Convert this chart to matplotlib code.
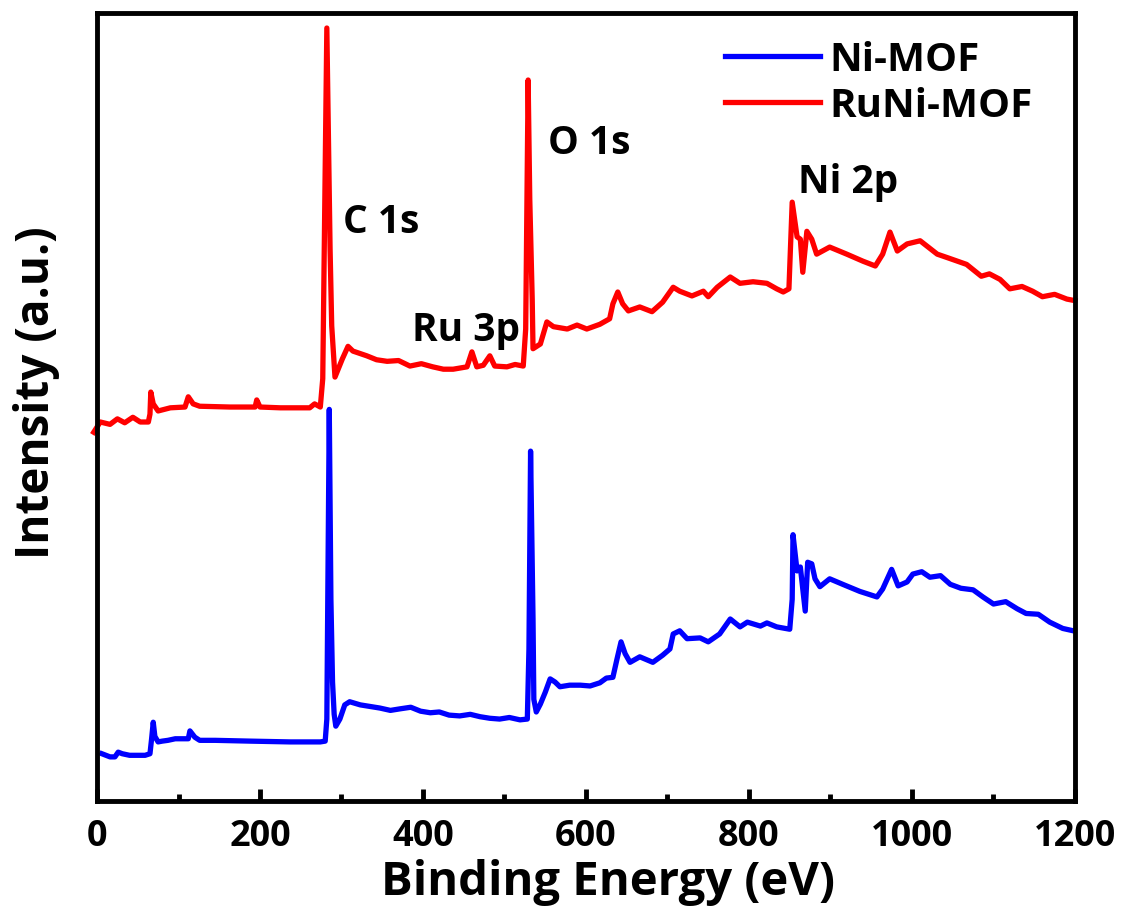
import matplotlib
matplotlib.use("Agg")
from matplotlib import pyplot as plt
from matplotlib import font_manager
from matplotlib.ticker import MultipleLocator

# pick a family that actually ships a bold face
bold_family = 'DejaVu Sans'
for fam in ['Open Sans', 'Noto Sans', 'Lato', 'Roboto', 'Liberation Sans']:
    try:
        path = font_manager.findfont(font_manager.FontProperties(family=fam, weight='bold'),
                                     fallback_to_default=False)
        if 'bold' in path.lower() or 'black' in path.lower():
            bold_family = fam
            break
    except ValueError:
        pass
plt.rcParams['font.family'] = [bold_family, 'DejaVu Sans']
plt.rcParams['font.weight'] = 'bold'

# Ni-MOF survey (binding energy eV, intensity a.u.)
ni_be = [6, 16, 22, 26, 31, 40, 59, 65, 67, 69, 71, 75, 80, 87, 96, 112, 114, 120, 126, 145,
         188, 237, 274, 280, 282, 285, 287, 289, 291, 293, 298, 304, 310, 323, 335, 347, 360, 372,
         385, 397, 409, 420, 432, 445, 458, 470, 482, 494, 506, 519, 528, 530, 532, 535, 536, 539,
         544, 550, 556, 562, 568, 580, 593, 605, 617, 625, 633, 638, 643, 648, 654, 666, 682, 694,
         703, 707, 715, 724, 740, 750, 764, 777, 789, 798, 814, 822, 834, 850, 853, 854, 859, 863,
         869, 872, 877, 881, 887, 899, 915, 936, 957, 964, 975, 983, 994, 1001, 1012, 1022, 1035,
         1047, 1060, 1075, 1087, 1100, 1115, 1129, 1140, 1155, 1169, 1185, 1198]
ni_int = [6.0, 5.6, 5.6, 6.2, 6.0, 5.8, 5.8, 6.0, 7.9, 10.0, 8.2, 7.5, 7.6, 7.7, 7.9, 7.9, 8.9,
          8.1, 7.7, 7.7, 7.6, 7.5, 7.5, 7.6, 10.4, 49.7, 25.6, 15.1, 11.0, 9.5, 10.4, 12.2, 12.6,
          12.2, 12.0, 11.8, 11.5, 11.7, 11.9, 11.4, 11.2, 11.3, 10.9, 10.8, 11.0, 10.7, 10.5, 10.4,
          10.6, 10.3, 10.4, 19.3, 44.4, 23.1, 12.9, 11.3, 12.3, 13.8, 15.5, 15.1, 14.5, 14.7, 14.7,
          14.6, 15.0, 15.6, 15.7, 18.0, 20.2, 18.7, 17.6, 18.3, 17.6, 18.5, 19.3, 21.2, 21.6, 20.6,
          20.7, 20.2, 21.2, 23.1, 22.1, 22.7, 22.2, 22.6, 22.1, 21.8, 25.6, 33.8, 29.2, 29.7, 24.1,
          30.3, 30.1, 28.2, 27.2, 28.2, 27.5, 26.6, 25.9, 26.9, 29.4, 27.3, 27.8, 28.8, 29.1, 28.4,
          28.6, 27.5, 27.0, 26.8, 25.9, 25.0, 25.3, 24.4, 23.8, 23.7, 22.7, 21.9, 21.6]

# RuNi-MOF survey
runi_be = [-4, 4, 16, 25, 34, 44, 53, 63, 65, 66, 69, 75, 90, 108, 112, 118, 126, 163, 194, 196,
           200, 225, 261, 267, 274, 277, 282, 286, 288, 292, 301, 308, 314, 331, 343, 356, 370,
           384, 398, 412, 425, 437, 454, 460, 466, 474, 482, 488, 503, 513, 523, 526, 529, 531,
           534, 535, 544, 552, 560, 577, 589, 601, 617, 629, 633, 639, 645, 652, 666, 681, 694,
           707, 715, 730, 744, 750, 761, 777, 789, 805, 822, 834, 842, 849, 853, 859, 863, 866,
           871, 877, 883, 899, 920, 940, 955, 964, 973, 982, 994, 1010, 1031, 1045, 1067, 1085,
           1095, 1108, 1120, 1135, 1148, 1160, 1175, 1190, 1200]
runi_int = [46.8, 48.1, 47.8, 48.5, 48.0, 48.7, 48.1, 48.1, 49.1, 51.9, 50.4, 49.5, 49.9, 50.0,
            51.3, 50.4, 50.1, 50.0, 50.0, 50.9, 50.0, 49.9, 49.9, 50.4, 50.0, 53.6, 98.1, 70.0,
            60.3, 53.8, 56.1, 57.7, 57.1, 56.5, 56.0, 55.8, 55.9, 55.2, 55.5, 55.1, 54.8, 54.8,
            55.1, 57.0, 55.1, 55.3, 56.5, 55.2, 55.1, 55.4, 55.2, 59.9, 91.5, 76.4, 63.7, 57.4,
            58.0, 60.8, 60.2, 59.9, 60.4, 59.9, 60.5, 61.2, 63.1, 64.6, 63.1, 62.2, 62.7, 62.1,
            63.3, 65.2, 64.7, 64.1, 64.7, 64.0, 65.2, 66.5, 65.7, 65.9, 65.7, 65.0, 64.6, 65.0,
            76.0, 71.6, 71.3, 67.1, 72.3, 71.3, 69.4, 70.3, 69.4, 68.5, 67.9, 69.4, 72.2, 69.8,
            70.7, 71.1, 69.4, 68.9, 68.1, 66.6, 66.9, 66.2, 65.0, 65.3, 64.7, 64.0, 64.3, 63.7,
            63.5]

peak_labels = ["C 1s", "Ru 3p", "O 1s", "Ni 2p"]
peak_x = [302, 387, 553, 860]
peak_y = [73.6, 59.9, 83.6, 78.6]

fig = plt.figure(figsize=(11.24, 9.12), dpi=100)
ax = fig.add_axes([0.0863, 0.1206, 0.8701, 0.864])

ax.plot(ni_be, ni_int, color='#0000ff', lw=3.8, label='Ni-MOF', solid_joinstyle='round')
ax.plot(runi_be, runi_int, color='#ff0000', lw=3.8, label='RuNi-MOF', solid_joinstyle='round',
        clip_on=False)

for lab, px, py in zip(peak_labels, peak_x, peak_y):
    ax.text(px, py, lab, fontsize=28, fontweight='bold', ha='left', va='center')

ax.set_xlim(0, 1200)
ax.set_ylim(0, 100)
ax.xaxis.set_major_locator(MultipleLocator(200))
ax.xaxis.set_minor_locator(MultipleLocator(100))
ax.tick_params(axis='x', which='major', direction='in', length=9, width=3.5, labelsize=26,
               pad=12)
ax.tick_params(axis='x', which='minor', direction='in', length=5, width=3.5)
ax.tick_params(axis='y', left=False, labelleft=False)
for lab in ax.get_xticklabels():
    lab.set_fontweight('bold')
for sp in ax.spines.values():
    sp.set_linewidth(3.5)

ax.set_xlabel('Binding Energy (eV)', fontsize=34, fontweight='bold')
ax.set_ylabel('Intensity (a.u.)', fontsize=33, fontweight='bold')
ax.xaxis.set_label_coords(0.523, -0.072)
ax.yaxis.set_label_coords(-0.038, 0.52)

ax.legend(loc='upper left', bbox_to_anchor=(0.642, 0.966), frameon=False,
          prop={'size': 29, 'weight': 'bold'}, borderpad=0, borderaxespad=0,
          handlelength=2.35, handletextpad=0.25, labelspacing=0.17)

fig.savefig('out.png', dpi=100)
